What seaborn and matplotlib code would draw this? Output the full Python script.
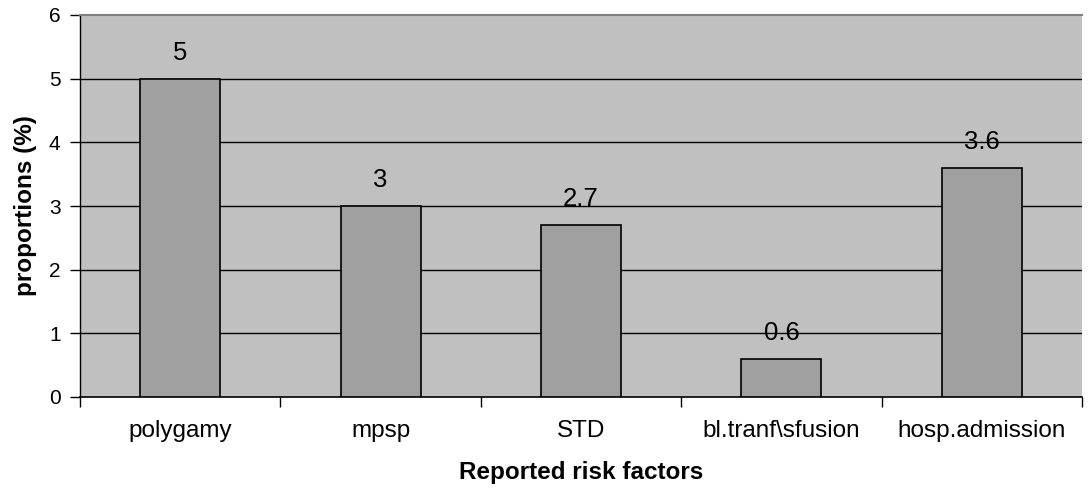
import matplotlib
matplotlib.use("Agg")
import matplotlib.pyplot as plt
import seaborn as sns
import pandas as pd
from matplotlib.ticker import FixedLocator

categories = ["polygamy", "mpsp", "STD", "bl.tranf\\sfusion", "hosp.admission"]
values = [5, 3, 2.7, 0.6, 3.6]
value_labels = ["5", "3", "2.7", "0.6", "3.6"]
yticks = [0, 1, 2, 3, 4, 5, 6]

sns.set_theme(style="white")
plt.rcParams['font.family'] = ['Liberation Sans', 'DejaVu Sans']
plt.rcParams.update({"text.color": "black", "axes.labelcolor": "black",
                     "xtick.color": "black", "ytick.color": "black"})

df = pd.DataFrame({"factor": categories, "value": values})

fig = plt.figure(figsize=(10.88, 4.93), dpi=100)
ax = fig.add_axes([80/1088, 1-397/493, 1002/1088, 382/493])
ax.set_facecolor("#C0C0C0")

sns.barplot(data=df, x="factor", y="value", ax=ax, color="#A0A0A0",
            width=0.4, edgecolor="black", linewidth=1.2, saturation=1, zorder=3)

ax.set_ylim(0, 6)
ax.set_xlim(-0.5, len(categories) - 0.5)
ax.set_yticks(yticks)
ax.set_yticklabels([str(t) for t in yticks])
for t in yticks[1:-1]:
    ax.axhline(t, color="black", linewidth=1, zorder=1)

ax.tick_params(axis="y", which="major", length=7, width=1, color="black", direction="out",
               left=True, pad=7, labelsize=15, labelcolor="black")
ax.tick_params(axis="x", which="major", length=0, labelsize=17.5, labelcolor="black", pad=16.5)
ax.xaxis.set_minor_locator(FixedLocator([i - 0.5 for i in range(len(categories) + 1)]))
ax.tick_params(axis="x", which="minor", length=7, width=1, color="black", direction="out", bottom=True)

for i, (v, lab) in enumerate(zip(values, value_labels)):
    ax.annotate(lab, xy=(i, v), xytext=(0, 10), textcoords="offset points",
                ha="center", va="bottom", fontsize=18.5, color="black", zorder=4)

ax.spines["left"].set_color("black")
ax.spines["bottom"].set_color("black")
ax.spines["left"].set_linewidth(1)
ax.spines["bottom"].set_linewidth(1.2)
ax.spines["top"].set_color("#808080")
ax.spines["top"].set_linewidth(1.5)
ax.spines["right"].set_visible(False)

ax.set_xlabel("Reported risk factors", fontsize=17.5, fontweight="bold", va="top")
ax.xaxis.set_label_coords(0.5, -(461 - 397) / 382)
ax.set_ylabel("proportions (%)", fontsize=17.5, fontweight="bold")
ax.yaxis.set_label_coords((37 - 80) / 1002, 0.5)

fig.savefig("out.png", dpi=100)
